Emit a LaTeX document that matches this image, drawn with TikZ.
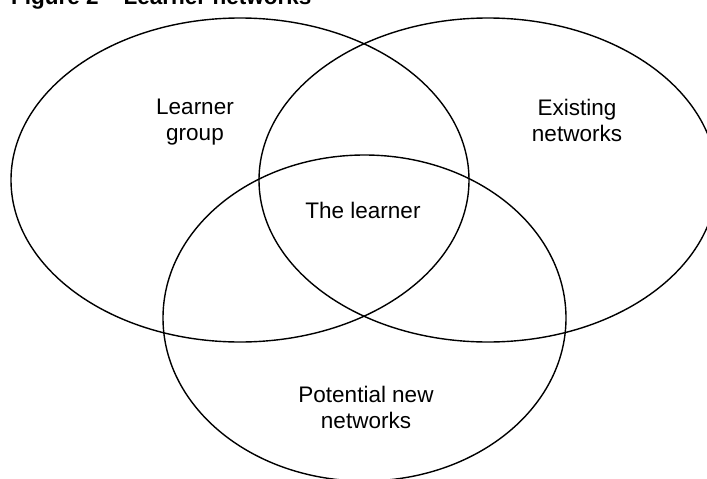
\documentclass[tikz,border=0pt]{standalone}
\usepackage{fontspec}
\setmainfont{Liberation Sans}
\begin{document}
\begin{tikzpicture}[x=1pt,y=-1pt,
  setc/.style={draw=black,line width=1.4pt},
  lbl/.style={align=center,anchor=base,inner sep=0pt,font=\fontsize{22.5}{26}\selectfont},
  ttl/.style={anchor=base west,inner sep=0pt,font=\bfseries\fontsize{22.5}{26}\selectfont}]
\useasboundingbox (0,0) rectangle (707,479);
\clip (0,0) rectangle (707,479);
\node[ttl] (title) at (11,5) {Figure 2 -- Learner networks};
\draw[setc] (240,180) ellipse [x radius=229pt, y radius=162pt];
\draw[setc] (488,180) ellipse [x radius=229pt, y radius=162pt];
\draw[setc] (364.5,318) ellipse [x radius=201.5pt, y radius=163pt];
\node[lbl] (group) at (195,140) {Learner\\group};
\node[lbl] (exist) at (577,141) {Existing\\networks};
\node[lbl] (learner) at (363,218) {The learner};
\node[lbl] (potential) at (366,428) {Potential new\\networks};
\end{tikzpicture}
\end{document}
